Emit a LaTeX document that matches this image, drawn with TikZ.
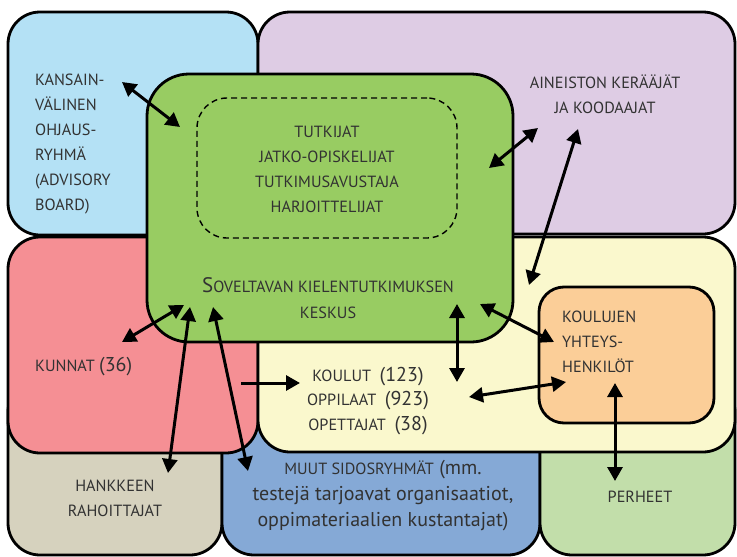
\documentclass[tikz,border=0pt]{standalone}
\usepackage{fontspec}
\setmainfont{PT Sans}
\usepackage{tikz}
\usetikzlibrary{positioning, arrows.meta}

\definecolor{skyblue}{RGB}{180,225,245}
\definecolor{lilac}{RGB}{222,204,228}
\definecolor{rose}{RGB}{245,143,148}
\definecolor{cream}{RGB}{250,248,205}
\definecolor{sand}{RGB}{214,210,190}
\definecolor{steel}{RGB}{133,169,214}
\definecolor{sage}{RGB}{194,222,170}
\definecolor{leaf}{RGB}{152,204,98}
\definecolor{peach}{RGB}{251,206,152}
\definecolor{textgray}{RGB}{50,50,50}

% bigger size for numbers and lower case
\newcommand\bignum[1]{{\fontsize{20}{25}\selectfont #1}}

\begin{document}
\begin{tikzpicture}[x=1pt, y=-1pt,
  box/.style = {draw, line width=2.8pt, rounded corners=32pt, inner sep=0pt},
  lbl/.style = {text=textgray, font=\fontsize{16.2}{25}\selectfont, inner sep=0pt, align=center},
  arr/.style = {{Triangle[length=14pt,width=15pt]}-{Triangle[length=14pt,width=15pt]}, line width=3pt}
  ]

\useasboundingbox (0,0) rectangle (737,557);

% bottom row
\node[box, fill=sand,  minimum width=214pt, minimum height=175pt] (rahoitusbox) at (115,467.5) {};
\node[box, fill=steel, minimum width=318pt, minimum height=175pt] (muutbox)     at (381,467.5) {};
\node[box, fill=sage,  minimum width=195pt, minimum height=175pt] (perheetbox)  at (637.5,467.5) {};

% middle row
\node[box, fill=rose,  minimum width=250pt, minimum height=216pt] (kunnatbox) at (133,345) {};
\node[box, fill=cream, minimum width=477pt, minimum height=215pt] (koulutbox) at (496.5,344.5) {};

% top row
\node[box, fill=skyblue, minimum width=250pt, minimum height=223pt] (ohjausbox)   at (133,123.5) {};
\node[box, fill=lilac,   minimum width=477pt, minimum height=222pt] (aineistobox) at (496.5,123) {};

% keskus - the centre
\node[box, fill=leaf, rounded corners=42pt, minimum width=366pt, minimum height=268pt] (keskusbox) at (330,208) {};
\node[draw, line width=1.4pt, dash pattern=on 6pt off 4pt, rounded corners=30pt, fill=leaf, minimum width=260pt, minimum height=140pt] (tutkijabox) at (327,168) {};

% koulujen yhteyshenkilot
\node[box, fill=peach, rounded corners=25pt, minimum width=175pt, minimum height=136pt] (yhteysbox) at (626.5,355) {};

% labels
\node[lbl, align=left, anchor=west] (ohjaus) at (35,144.5) {KANSAIN-\\VÄLINEN\\OHJAUS-\\RYHMÄ\\(ADVISORY\\BOARD)};
\node[lbl] (tutkijat) at (327,169) {TUTKIJAT\\JATKO-OPISKELIJAT\\TUTKIMUSAVUSTAJA\\HARJOITTELIJAT};
\node[lbl, font=\fontsize{16.2}{26}\selectfont] (keskus) at (328,298) {{\fontsize{21}{26}\selectfont S}OVELTAVAN KIELENTUTKIMUKSEN\\KESKUS};
\node[lbl] (aineisto) at (605,94) {AINEISTON KERÄÄJÄT\\JA KOODAAJAT};
\node[lbl, anchor=west] (kunnat) at (35,367) {KUNNAT \bignum{(36)}};
\node[lbl, font=\fontsize{16.2}{24.5}\selectfont] (koulut) at (368,401) {KOULUT~~\bignum{(123)}\\OPPILAAT~~\bignum{(923)}\\OPETTAJAT~~\bignum{(38)}};
\node[lbl, align=left, anchor=west] (yhteys) at (562,342) {KOULUJEN\\YHTEYS-\\HENKILÖT};
\node[lbl] (rahoitus) at (115,498) {HANKKEEN\\RAHOITTAJAT};
\node[lbl, font=\fontsize{20}{26}\selectfont] (muut) at (383,496) {{\fontsize{16.2}{26}\selectfont MUUT SIDOSRYHMÄT} (mm.\\testejä tarjoavat organisaatiot,\\oppimateriaalien kustantajat)};
\node[lbl] (perheet) at (640,497) {PERHEET};

%--- arrow ends
\coordinate (ohj-a) at (122,82);   \coordinate (ohj-b) at (180,127);
\coordinate (ain-a) at (489,168);  \coordinate (ain-b) at (538,128);
\coordinate (ain-c) at (578,129);  \coordinate (ain-d) at (529,285);
\coordinate (kun-a) at (184,305);  \coordinate (kun-b) at (122,342);
\coordinate (rah-a) at (190,307);  \coordinate (rah-b) at (168,473);
\coordinate (muu-a) at (213,307);  \coordinate (muu-b) at (248,471);
\coordinate (kou-a) at (241,383);  \coordinate (kou-b) at (300,383);
\coordinate (kou-c) at (457,304);  \coordinate (kou-d) at (457,382);
\coordinate (yht-a) at (480,304);  \coordinate (yht-b) at (554,342);
\coordinate (yht-c) at (469,397);  \coordinate (yht-d) at (566,382);
\coordinate (per-a) at (615,383);  \coordinate (per-b) at (615,481);

%--- ohjaus <-> keskus
\draw[arr] (ohj-a) -- (ohj-b);
%--- keskus <-> aineisto
\draw[arr] (ain-a) -- (ain-b);
%--- aineisto <-> koulut
\draw[arr] (ain-c) -- (ain-d);
%--- keskus <-> kunnat, rahoittajat, muut
\draw[arr] (kun-a) -- (kun-b);
\draw[arr] (rah-a) -- (rah-b);
\draw[arr] (muu-a) -- (muu-b);
%--- kunnat -> koulut
\draw[arr, {Triangle[length=14pt,width=15pt]}-] (kou-b) -- (kou-a);
%--- keskus <-> koulut
\draw[arr] (kou-c) -- (kou-d);
%--- keskus <-> yhteys, koulut <-> yhteys
\draw[arr] (yht-a) -- (yht-b);
\draw[arr] (yht-c) -- (yht-d);
%--- yhteys <-> perheet
\draw[arr] (per-a) -- (per-b);

\end{tikzpicture}
\end{document}
